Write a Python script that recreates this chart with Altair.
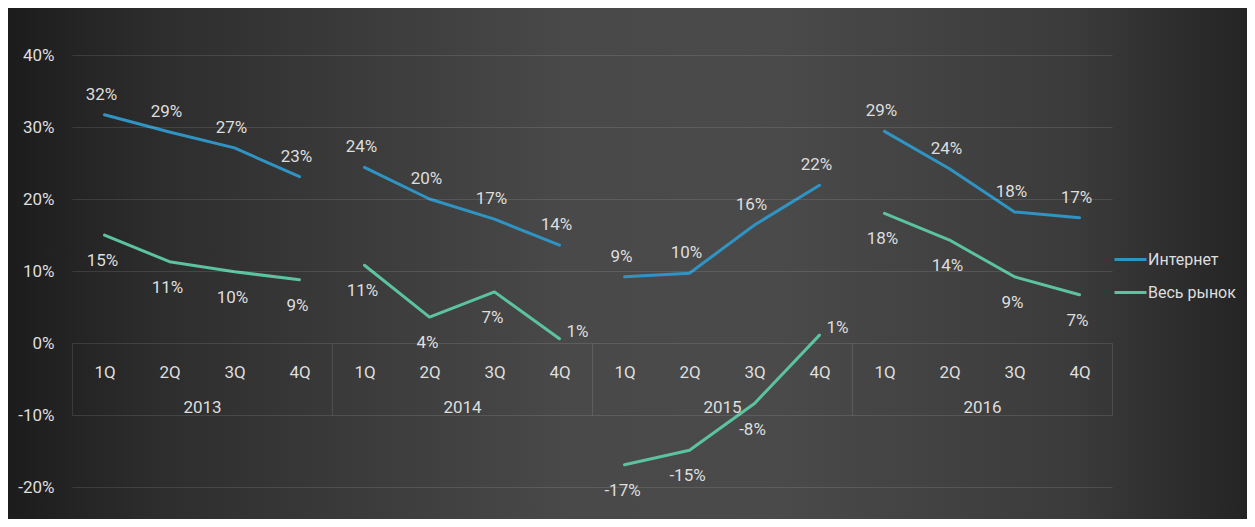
import json
import altair as alt
import pandas as pd

# ---------------- data ----------------
years = [2013, 2014, 2015, 2016]
quarters = ["1Q", "2Q", "3Q", "4Q"]
series_names = ["Интернет", "Весь рынок"]
internet = [31.7, 29.3, 27.1, 23.1,
            24.4, 20.0, 17.2, 13.6,
            9.2, 9.7, 16.4, 21.9,
            29.4, 24.2, 18.2, 17.4]
market = [15.0, 11.3, 9.9, 8.8,
          10.8, 3.6, 7.1, 0.6,
          -16.9, -14.9, -8.4, 1.1,
          18.0, 14.3, 9.2, 6.7]
y_ticks = [-20, -10, 0, 10, 20, 30, 40]

rows = []
for name, vals in zip(series_names, [internet, market]):
    for i, v in enumerate(vals):
        yr = years[i // 4]
        qi = i % 4
        rows.append({"series": name, "year": yr, "quarter": quarters[qi],
                     "t": yr + (qi + 0.5) / 4, "value": v})
df = pd.DataFrame(rows)

quarter_ticks = [y + (q + 0.5) / 4 for y in years for q in range(4)]
year_centers = [y + 0.5 for y in years]
year_bounds = years + [years[-1] + 1]

# ---------------- style ----------------
W, H = 1040, 511
PAD_L, PAD_R = 64, 135
FONT = "Roboto"
TXT = "#dedede"
BLUE = "#2f94c4"
GREEN = "#5cc3a0"

x_scale = alt.Scale(domain=[years[0], years[-1] + 1], nice=False, zero=False)
y_scale = alt.Scale(domain=[-24.44, 46.53], nice=False, zero=False)

bg = alt.Chart(pd.DataFrame({"k": [0]})).mark_rect(
    fill=alt.LinearGradient(
        gradient="linear",
        stops=[
            alt.GradientStop(color="#1c1c1c", offset=0),
            alt.GradientStop(color="#2d2d2d", offset=0.12),
            alt.GradientStop(color="#494949", offset=0.45),
            alt.GradientStop(color="#4a4a4a", offset=0.62),
            alt.GradientStop(color="#3b3b3b", offset=0.86),
            alt.GradientStop(color="#242424", offset=1),
        ],
        x1=0, x2=1, y1=0, y2=0,
    ),
    strokeWidth=0,
).encode(x=alt.value(-PAD_L), x2=alt.value(W + PAD_R), y=alt.value(0), y2=alt.value(H))

quarter_expr = f"{json.dumps(quarters)}[floor((datum.value - floor(datum.value)) * 4)]"

lines = alt.Chart(df).mark_line(strokeWidth=3, strokeCap="round", strokeJoin="round").encode(
    x=alt.X("t:Q", scale=x_scale, axis=alt.Axis(
        orient="bottom", values=quarter_ticks, labelExpr=quarter_expr, offset=-176,
        ticks=False, domain=False, grid=False, labelPadding=29, labelBaseline="middle",
        labelFontSize=17, labelColor=TXT, labelFont=FONT, labelOverlap=False,
        labelFlush=False, title=None, zindex=1)),
    y=alt.Y("value:Q", scale=y_scale, axis=alt.Axis(
        orient="left", values=y_ticks, labelExpr="datum.value + '%'", ticks=False,
        domain=False, grid=True, gridColor="#ffffff", gridOpacity=0.11, gridWidth=1.2,
        labelPadding=18, labelFontSize=17, labelColor=TXT, labelFont=FONT,
        labelOverlap=False, labelFlush=False, title=None, zindex=1)),
    color=alt.Color("series:N", scale=alt.Scale(domain=series_names, range=[BLUE, GREEN]),
                    legend=alt.Legend(orient="none", legendX=1041, legendY=234, title=None,
                                      symbolType="stroke", symbolSize=1024,
                                      symbolStrokeWidth=3, labelFontSize=16,
                                      labelColor=TXT, labelFont=FONT, labelOffset=0,
                                      rowPadding=7, zindex=1, direction="vertical")),
    detail="year:N",
)

label_calc = "round(datum.value) + '%'"

internet_labels = alt.Chart(df).transform_filter(
    alt.datum.series == series_names[0]
).transform_calculate(label=label_calc).mark_text(
    font=FONT, fontSize=17, color=TXT, baseline="middle", dy=-20, dx=-3
).encode(
    x=alt.X("t:Q", scale=x_scale, axis=alt.Axis(
        orient="bottom", values=year_centers, labelExpr="'' + floor(datum.value)",
        offset=-176, ticks=False, domain=False, grid=False, labelPadding=64,
        labelBaseline="middle", labelFontSize=17, labelColor=TXT, labelFont=FONT,
        labelOverlap=False, labelFlush=False, title=None, zindex=1)),
    y=alt.Y("value:Q", scale=y_scale, axis=None),
    text="label:N",
)

market_main = alt.Chart(df).transform_filter(
    (alt.datum.series == series_names[1]) & ((alt.datum.value < 0) | (alt.datum.value >= 2))
).transform_calculate(label=label_calc).mark_text(
    font=FONT, fontSize=17, color=TXT, baseline="middle", dy=26, dx=-2
).encode(
    x=alt.X("t:Q", scale=x_scale, axis=alt.Axis(
        orient="bottom", values=year_bounds, labels=False, ticks=True, tickSize=72,
        tickColor="#ffffff", tickOpacity=0.11, tickWidth=1.2, offset=-176,
        domain=False, grid=False, title=None, zindex=1)),
    y=alt.Y("value:Q", scale=y_scale, axis=None),
    text="label:N",
)

market_side = alt.Chart(df).transform_filter(
    (alt.datum.series == series_names[1]) & (alt.datum.value >= 0) & (alt.datum.value < 2)
).transform_calculate(label=label_calc).mark_text(
    font=FONT, fontSize=17, color=TXT, baseline="middle", dy=-7, dx=18
).encode(
    x=alt.X("t:Q", scale=x_scale, axis=None),
    y=alt.Y("value:Q", scale=y_scale, axis=None),
    text="label:N",
)

chart = alt.layer(bg, lines, internet_labels, market_main, market_side).resolve_scale(
    x="shared", y="shared"
).resolve_axis(
    x="independent", y="independent"
).properties(
    width=W, height=H,
    padding={"left": PAD_L, "top": 0, "right": PAD_R, "bottom": 0},
    autosize=alt.AutoSizeParams(type="none"),
).configure(background="#2a2a2a").configure_view(stroke=None)

chart.save("out.html", embed_options={"renderer": "svg", "actions": False})
